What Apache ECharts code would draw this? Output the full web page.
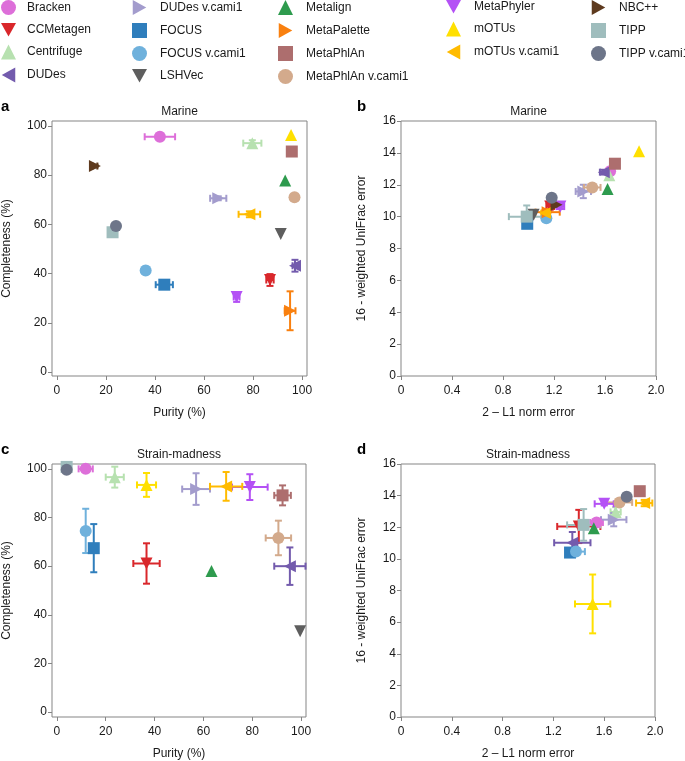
<!DOCTYPE html>
<html>
<head>
<meta charset="utf-8">
<script src="https://cdn.jsdelivr.net/npm/echarts@6/dist/echarts.min.js"></script>
<style>
  html, body { margin: 0; padding: 0; background: #ffffff; }
  #chart { width: 685px; height: 761px; }
</style>
</head>
<body>
<div id="chart"></div>
<script>
// methods, in legend order
const methods = ['Bracken', 'CCMetagen', 'Centrifuge', 'DUDes', 'DUDes v.cami1', 'FOCUS',
  'FOCUS v.cami1', 'LSHVec', 'Metalign', 'MetaPalette', 'MetaPhlAn', 'MetaPhlAn v.cami1',
  'MetaPhyler', 'mOTUs', 'mOTUs v.cami1', 'NBC++', 'TIPP', 'TIPP v.cami1']

const methodColors = ['#dd6fd9', '#d9272b', '#b7e1b0', '#735bad', '#a39ccd', '#2f7ebc',
  '#6fb1dc', '#5e5e5e', '#2e9b4e', '#f9800f', '#ad6e6e', '#d3aa8c',
  '#b451f5', '#ffe000', '#ffbb00', '#5e3a1e', '#9fbdbd', '#6d7589']

const methodShapes = ['circle', 'down', 'up', 'left', 'right', 'square',
  'circle', 'down', 'up', 'right', 'square', 'circle',
  'down', 'up', 'left', 'right', 'square', 'circle']

// a: Marine, purity / completeness (%)
const marinePurity = [42.0, 86.9, 79.7, 97.1, 65.8, 43.8, 36.2, 91.3, 93.1, 95.1, 95.8, 96.9, 73.3, 95.5, 78.5, 15.5, 22.7, 24.1]
const marinePurityErr = [6.2, 1.5, 3.7, 1.0, 3.3, 3.5, 1.2, 0, 0, 2.2, 0, 0, 1.2, 0, 4.4, 1.0, 0, 0]
const marineCompleteness = [95.6, 37.4, 93.0, 43.2, 70.6, 35.5, 41.3, 56.1, 77.8, 24.9, 89.6, 71.0, 30.5, 96.3, 64.1, 83.7, 56.8, 59.3]
const marineCompletenessErr = [0.8, 2.4, 1.2, 2.4, 0.8, 0.8, 1.5, 0, 0, 7.9, 0, 0, 2.0, 0, 1.2, 0.5, 0, 0]

// b: Marine, 2 - L1 norm error / 16 - weighted UniFrac error
const marineL1 = [1.64, 1.17, 1.634, 1.59, 1.43, 0.99, 1.14, 1.04, 1.62, 1.15, 1.678, 1.50, 1.25, 1.867, 1.13, 1.22, 0.986, 1.182]
const marineL1Err = [0.02, 0.03, 0.02, 0.03, 0.06, 0, 0.02, 0, 0, 0.095, 0, 0.065, 0.03, 0, 0.03, 0.03, 0.14, 0.02]
const marineUnifrac = [12.85, 10.63, 12.6, 12.79, 11.58, 9.55, 9.9, 10.12, 11.73, 10.28, 13.32, 11.83, 10.63, 14.1, 10.22, 10.74, 10.0, 11.18]
const marineUnifracErr = [0.1, 0.2, 0.2, 0.15, 0.42, 0, 0.1, 0, 0, 0.2, 0, 0.15, 0.15, 0, 0.2, 0.1, 0.7, 0.1]

// c: Strain-madness, purity / completeness (%)
const strainPurity = [11.8, 36.7, 23.7, 95.4, 57.0, 15.1, 11.8, 99.6, 63.3, null, 92.4, 90.7, 79.0, 36.7, 69.3, null, 4.0, 4.0]
const strainPurityErr = [2.9, 5.4, 3.7, 6.4, 5.7, 1.5, 1.0, 0, 0, null, 3.4, 5.2, 7.3, 3.9, 6.6, null, 0, 0.5]
const strainCompleteness = [100.0, 61.1, 96.6, 60.0, 91.7, 67.4, 74.5, 33.2, 58.0, null, 89.1, 71.6, 92.5, 93.4, 92.8, null, 100.8, 99.6]
const strainCompletenessErr = [0.5, 8.3, 4.3, 7.7, 6.5, 9.9, 9.1, 0, 0, null, 4.1, 7.1, 5.3, 4.9, 5.9, null, 0, 0.5]

// d: Strain-madness, 2 - L1 norm error / 16 - weighted UniFrac error
const strainL1 = [1.54, 1.40, 1.69, 1.349, 1.675, 1.331, 1.378, null, 1.518, null, 1.88, 1.72, 1.60, 1.509, 1.915, null, 1.438, 1.777]
const strainL1Err = [0.05, 0.17, 0.04, 0.143, 0.1, 0.03, 0.07, null, 0, null, 0.03, 0.1, 0.075, 0.139, 0.064, null, 0.13, 0.02]
const strainUnifrac = [12.3, 12.05, 12.97, 11.02, 12.48, 10.4, 10.46, null, 11.93, null, 14.28, 13.57, 13.48, 7.15, 13.53, null, 12.15, 13.93]
const strainUnifracErr = [0.2, 1.05, 0.3, 0.68, 0.42, 0.1, 0.1, null, 0, null, 0.1, 0.15, 0.1, 1.86, 0.2, null, 1.0, 0.1]

const pctTicks = [0, 20, 40, 60, 80, 100]
const l1Ticks = [0, 0.4, 0.8, 1.2, 1.6, 2.0]
const unifracTicks = [0, 2, 4, 6, 8, 10, 12, 14, 16]

const FONT = '"Liberation Sans", Arial, Helvetica, sans-serif'
const TEXT = '#1a1a1a'
const FRAME = '#858585'

const shapeSymbols = {
  circle: 'circle',
  square: 'rect',
  up: 'triangle',
  down: 'path://M0,0L10,0L5,9Z',
  left: 'path://M9,0L9,10L0,5Z',
  right: 'path://M0,0L0,10L9,5Z'
}

const panels = [
  { letter: 'a', title: 'Marine', xs: marinePurity, xe: marinePurityErr, ys: marineCompleteness, ye: marineCompletenessErr,
    kind: 'pct', grid: { left: 52, top: 121, width: 255, height: 255 }, yMin: -1.6 },
  { letter: 'b', title: 'Marine', xs: marineL1, xe: marineL1Err, ys: marineUnifrac, ye: marineUnifracErr,
    kind: 'err', grid: { left: 401, top: 121, width: 255, height: 255 } },
  { letter: 'c', title: 'Strain-madness', xs: strainPurity, xe: strainPurityErr, ys: strainCompleteness, ye: strainCompletenessErr,
    kind: 'pct', grid: { left: 52, top: 464, width: 254, height: 254 }, yMin: -2 },
  { letter: 'd', title: 'Strain-madness', xs: strainL1, xe: strainL1Err, ys: strainUnifrac, ye: strainUnifracErr,
    kind: 'err', grid: { left: 401, top: 464, width: 254, height: 255 } }
]

function baseAxis(gridIndex, ticks, name, nameGap, min, max, labelMargin, formatter) {
  return {
    type: 'value',
    gridIndex: gridIndex,
    min: min,
    max: max,
    name: name,
    nameLocation: 'middle',
    nameGap: nameGap,
    nameTextStyle: { fontSize: 12, color: TEXT, fontFamily: FONT },
    axisLine: { show: false, onZero: false },
    axisTick: { show: true, customValues: ticks, length: 4, lineStyle: { color: FRAME, width: 1 } },
    axisLabel: { customValues: ticks, fontSize: 12, color: TEXT, fontFamily: FONT, margin: labelMargin, formatter: formatter },
    splitLine: { show: false }
  }
}

// draws the horizontal / vertical error bars with small caps
function errorBarRenderer(color) {
  return function (params, api) {
    const x = api.value(0)
    const y = api.value(1)
    const xe = api.value(2)
    const ye = api.value(3)
    const cap = 3.5
    const segs = []
    if (xe > 0) {
      const a = api.coord([x - xe, y])
      const b = api.coord([x + xe, y])
      segs.push([a[0], a[1], b[0], b[1]])
      segs.push([a[0], a[1] - cap, a[0], a[1] + cap])
      segs.push([b[0], b[1] - cap, b[0], b[1] + cap])
    }
    if (ye > 0) {
      const a = api.coord([x, y - ye])
      const b = api.coord([x, y + ye])
      segs.push([a[0], a[1], b[0], b[1]])
      segs.push([a[0] - cap, a[1], a[0] + cap, a[1]])
      segs.push([b[0] - cap, b[1], b[0] + cap, b[1]])
    }
    return {
      type: 'group',
      children: segs.map(s => ({
        type: 'line',
        shape: { x1: s[0], y1: s[1], x2: s[2], y2: s[3] },
        style: { stroke: color, lineWidth: 2, fill: null }
      }))
    }
  }
}

const grids = []
const xAxes = []
const yAxes = []
const series = []
const graphics = []

panels.forEach((p, pi) => {
  grids.push(Object.assign({ show: true, borderColor: FRAME, borderWidth: 1, backgroundColor: 'transparent' }, p.grid))

  if (p.kind === 'pct') {
    xAxes.push(baseAxis(pi, pctTicks, 'Purity (%)', 31, -2, 102, 9))
    yAxes.push(baseAxis(pi, pctTicks, 'Completeness (%)', 39, p.yMin, 102, 5))
  } else {
    xAxes.push(baseAxis(pi, l1Ticks, '2 \u2013 L1 norm error', 31, 0, 2, 9, v => (v === 0 ? '0' : v.toFixed(1))))
    yAxes.push(baseAxis(pi, unifracTicks, '16 - weighted UniFrac error', 33, 0, 16, 5))
  }

  const cx = p.grid.left + p.grid.width / 2
  graphics.push({
    type: 'text', x: cx, y: p.grid.top - 9,
    style: { text: p.title, fill: TEXT, font: '12px ' + FONT, align: 'center', verticalAlign: 'middle' }
  })
  graphics.push({
    type: 'text', x: p.grid.left < 100 ? 1 : 357, y: p.grid.top - 14,
    style: { text: p.letter, fill: '#000000', font: 'bold 15px ' + FONT, align: 'left', verticalAlign: 'middle' }
  })

  methods.forEach((m, i) => {
    if (p.xs[i] == null || p.ys[i] == null) return
    const color = methodColors[i]
    if (p.xe[i] > 0 || p.ye[i] > 0) {
      series.push({
        type: 'custom',
        name: m + ' error',
        xAxisIndex: pi,
        yAxisIndex: pi,
        silent: true,
        clip: false,
        encode: { x: 0, y: 1 },
        data: [[p.xs[i], p.ys[i], p.xe[i], p.ye[i]]],
        renderItem: errorBarRenderer(color)
      })
    }
    series.push({
      type: 'scatter',
      name: m,
      xAxisIndex: pi,
      yAxisIndex: pi,
      clip: false,
      symbol: shapeSymbols[methodShapes[i]],
      symbolSize: 12,
      itemStyle: { color: color, opacity: 1 },
      emphasis: { disabled: true },
      data: [[p.xs[i], p.ys[i]]]
    })
  })
})

// legend: five columns
const legendColumns = [methods.slice(0, 4), methods.slice(4, 8), methods.slice(8, 12), methods.slice(12, 15), methods.slice(15, 18)]
const legendLeft = [1, 132, 278, 446, 591]
const legends = legendColumns.map((names, ci) => ({
  orient: 'vertical',
  left: legendLeft[ci],
  top: 0,
  padding: 0,
  itemWidth: 15,
  itemHeight: 15,
  itemGap: 8,
  selectedMode: false,
  textStyle: { fontSize: 12, color: TEXT, fontFamily: FONT, padding: [0, 0, 0, ci === 0 ? 6 : 8] },
  data: names.map(n => ({ name: n, icon: shapeSymbols[methodShapes[methods.indexOf(n)]] }))
}))

const chart = echarts.init(document.getElementById('chart'), null, { renderer: 'canvas' })
chart.setOption({
  animation: false,
  backgroundColor: '#ffffff',
  textStyle: { fontFamily: FONT },
  legend: legends,
  grid: grids,
  xAxis: xAxes,
  yAxis: yAxes,
  graphic: graphics,
  series: series
})
</script>
</body>
</html>
